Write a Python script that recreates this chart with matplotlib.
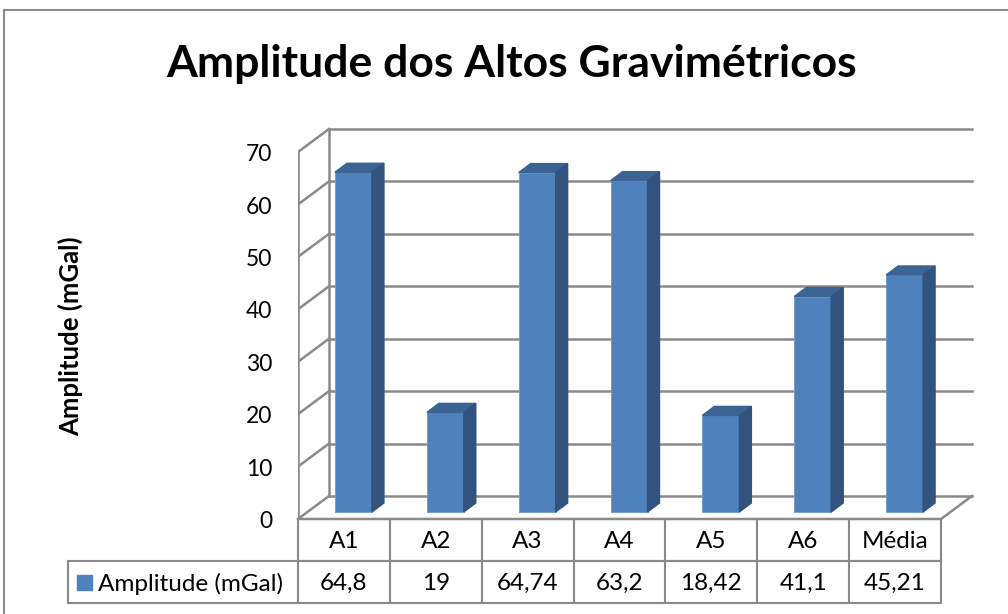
import matplotlib.pyplot as plt
from matplotlib.patches import Polygon, Rectangle

# data
categories = ["A1", "A2", "A3", "A4", "A5", "A6", "Média"]
values = [64.8, 19, 64.74, 63.2, 18.42, 41.1, 45.21]
value_labels = ["64,8", "19", "64,74", "63,2", "18,42", "41,1", "45,21"]
yticks = [0, 10, 20, 30, 40, 50, 60, 70]
series_name = "Amplitude (mGal)"

FONT = "Lato"
front = "#4F81BD"
top_c = "#3B6495"
side_c = "#31537D"
grid_c = "#8A8A8A"

W, H = 1008, 614
fig = plt.figure(figsize=(W / 100, H / 100), dpi=100)

# axes geometry in pixels
px_left, px_right, px_top, px_bot = 298, 990, 100, 519
ax = fig.add_axes([px_left / W, 1 - px_bot / H, (px_right - px_left) / W, (px_bot - px_top) / H])
px_cat = 643 / 7
px_val = 367 / 70
ax.set_xlim(-0.5, -0.5 + (px_right - px_left) / px_cat)
ax.set_ylim(0, (px_bot - px_top) / px_val)
ax.axis("off")

# depth of the 3d box
DX = 31 / px_cat
DY = 23 / px_val
n = len(categories)
x0, x1 = -0.5, n - 0.5

# back wall gridlines and left wall diagonals
for v in yticks:
    ax.plot([x0 + DX, x1 + DX], [v + DY, v + DY], color=grid_c, lw=1.8, zorder=1)
    ax.plot([x0, x0 + DX], [v, v + DY], color=grid_c, lw=1.8, zorder=1)
    ax.text(x0 - 26 / px_cat, v - 0.5, str(v), ha="right", va="center",
            fontsize=16.5, family=FONT)
ax.plot([x0 + DX, x0 + DX], [DY, 70 + DY], color=grid_c, lw=1.8, zorder=1)
ax.plot([x0, x0], [0, 70], color=grid_c, lw=1.8, zorder=1)
# floor
ax.plot([x0, x1, x1 + DX], [0, 0, DY], color=grid_c, lw=1.8, zorder=1, clip_on=False)

# bars
bw = 37 / px_cat
bdx = 12 / px_cat
bdy = 9 / px_val
offx = (DX - bdx) / 2
offy = (DY - bdy) / 2
xs = [i + offx for i in range(n)]
ax.bar(xs, values, width=bw, bottom=offy, color=front, edgecolor="#6E9BD0",
       linewidth=0.6, zorder=3)
for xc, v in zip(xs, values):
    l, r = xc - bw / 2, xc + bw / 2
    t = v + offy
    ax.add_patch(Polygon([(l, t), (r, t), (r + bdx, t + bdy), (l + bdx, t + bdy)],
                         closed=True, color=top_c, zorder=3))
    ax.add_patch(Polygon([(r, offy), (r + bdx, offy + bdy), (r + bdx, t + bdy), (r, t)],
                         closed=True, color=side_c, zorder=3))

# data table below the chart
row1 = -42 / px_val
row2 = -84 / px_val
leg_left = x0 - (298 - 68) / px_cat
tl = dict(color=grid_c, lw=1.5, clip_on=False)
ax.plot([x0, x1], [row1, row1], **tl)
ax.plot([leg_left, x1], [row1, row1], **tl)
ax.plot([leg_left, x1], [row2, row2], **tl)
ax.plot([leg_left, leg_left], [row1, row2], **tl)
for k in range(n + 1):
    ax.plot([x0 + k, x0 + k], [0, row2], **tl)
for i in range(n):
    ax.text(i, row1 / 2 - 0.3, categories[i], ha="center", va="center", fontsize=17.5, family=FONT)
    ax.text(i, (row1 + row2) / 2 - 0.3, value_labels[i], ha="center", va="center",
            fontsize=17.5, family=FONT)
sq = 15
ax.add_patch(Rectangle((leg_left + 9 / px_cat, (row1 + row2) / 2 - sq / 2 / px_val),
                       sq / px_cat, sq / px_val, color=front, clip_on=False))
ax.text(leg_left + 30 / px_cat, (row1 + row2) / 2 - 0.3, series_name, ha="left",
        va="center", fontsize=17.5, family=FONT)

# titles
fig.text(512 / W, 1 - 64 / H, "Amplitude dos Altos Gravimétricos", ha="center", va="center",
         fontsize=32, fontweight="bold", family=FONT)
fig.text(70 / W, 1 - 336 / H, "Amplitude (mGal)", ha="center", va="center", rotation=90,
         fontsize=18.5, fontweight="bold", family=FONT)

# chart frame
fig.add_artist(plt.Line2D([4 / W, 4 / W], [0, 1 - 10 / H], color="#8C8C8C", lw=1.5))
fig.add_artist(plt.Line2D([4 / W, 1], [1 - 10 / H, 1 - 10 / H], color="#8C8C8C", lw=1.5))

fig.savefig("out.png", dpi=100, facecolor="white")
